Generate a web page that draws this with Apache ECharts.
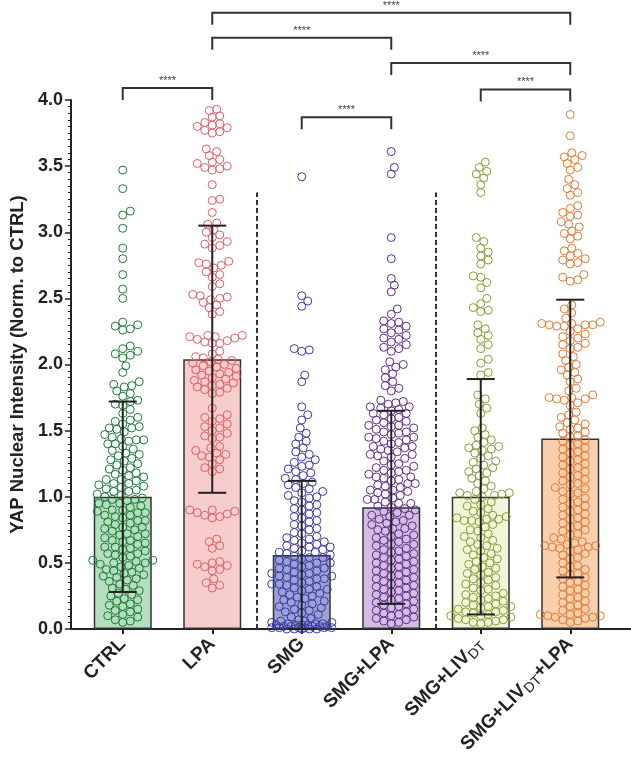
<!DOCTYPE html>
<html><head><meta charset="utf-8">
<script src="https://cdn.jsdelivr.net/npm/echarts@6/dist/echarts.min.js"></script>
<style>html,body{margin:0;padding:0;background:#fff}#c{width:631px;height:762px}</style>
</head><body><div id="c"></div>
<script>
// ---------- DATA ----------
const categories = ['CTRL', 'LPA', 'SMG', 'SMG+LPA', 'SMG+LIV_DT', 'SMG+LIV_DT+LPA'];
const barMeans = [1.00, 2.04, 0.56, 0.92, 1.00, 1.44];
const barSD = [0.72, 1.01, 0.56, 0.73, 0.89, 1.05];
const yMin = 0, yMax = 4.0, yInterval = 0.5;

const ctrlPoints = [3.47,3.33,3.16,3.13,3.03,2.88,2.80,2.68,2.57,2.50,
2.32,2.30,2.29,2.27,2.26,2.14,2.12,2.10,2.08,2.07,2.05,1.99,1.94,1.87,1.85,1.84,1.83,
1.80,1.78,1.76,1.73,1.72,1.70,1.69,1.66,1.63,
1.60,1.58,1.57,1.55,1.53,1.52,1.52,1.51,1.49,1.47,1.45,1.44,1.43,1.43,1.42,1.40,1.40,
1.38,1.36,1.35,1.33,1.32,1.31,1.29,1.28,1.27,1.25,1.24,1.22,1.21,1.20,1.18,1.17,1.16,1.15,1.13,1.13,1.12,1.10,1.10,1.09,1.08,
1.07,1.06,1.05,1.04,1.04,1.02,1.01,1.00,0.99,0.98,0.98,0.97,0.95,0.95,0.94,0.93,0.92,0.90,0.90,0.89,0.88,0.88,0.86,0.86,0.85,0.84,0.82,0.82,0.81,0.80,0.79,0.77,0.77,0.76,0.75,0.74,0.72,0.72,0.71,0.70,0.69,0.67,0.67,0.66,0.65,0.64,0.62,0.62,0.61,0.60,0.59,0.57,0.57,0.56,0.55,0.54,0.52,0.52,0.51,0.50,0.50,0.49,0.48,0.47,0.46,0.45,0.44,0.43,0.42,0.41,0.40,0.39,0.38,
0.37,0.36,0.34,0.33,0.31,0.30,0.29,0.27,0.26,0.25,0.23,0.22,0.21,0.19,0.18,0.17,0.15,0.14,0.13,0.11,0.10,0.09,0.07,0.06,0.05];

const lpaPoints = [3.93,3.92,3.88,3.87,3.83,3.82,3.81,3.80,3.79,3.77,3.76,3.75,
3.63,3.61,3.58,3.55,3.53,3.52,3.50,3.49,3.48,3.47,
3.36,3.25,3.24,3.15,3.07,3.06,
3.02,3.00,2.98,2.96,2.93,2.91,2.90,2.88,
2.78,2.77,2.76,2.75,2.73,2.70,2.68,2.66,2.61,2.59,
2.53,2.52,2.51,2.50,2.49,2.47,2.45,2.43,2.40,2.38,
2.22,2.22,2.21,2.21,2.20,2.19,2.18,2.17,2.16,2.16,
2.10,2.08,2.06,2.05,2.04,2.03,2.02,2.01,2.00,1.99,1.98,1.97,1.96,1.95,1.94,1.93,1.92,1.91,1.90,1.89,1.88,1.87,1.86,1.85,1.84,1.83,1.82,1.81,1.79,1.78,
1.67,1.62,1.60,1.59,1.57,1.55,1.53,1.52,1.50,1.48,1.46,1.45,1.44,
1.38,1.37,1.35,1.33,1.32,1.31,1.30,1.28,1.25,1.22,1.21,1.19,
0.90,0.90,0.89,0.88,0.87,0.86,0.85,0.84,
0.68,0.66,0.63,0.61,
0.51,0.50,0.49,0.48,0.47,0.45,0.44,
0.38,0.35,0.33,0.31];

const smgPoints = [3.42,2.52,2.48,2.44,2.12,2.11,2.10,1.92,1.87,1.68,1.62,1.58,
1.52,1.48,1.45,1.42,1.40,1.37,1.34,1.32,1.30,1.28,
1.26,1.24,1.23,1.21,1.19,1.18,1.16,1.14,1.13,1.11,1.10,1.09,1.07,1.06,1.04,1.03,1.01,1.00,0.99,0.97,0.96,0.94,0.93,0.91,0.90,
0.88,0.87,0.85,0.84,0.82,0.81,0.79,0.78,0.76,0.75,0.73,0.72,0.70,0.69,0.68,
0.67,0.66,0.65,0.64,0.63,0.62,0.62,0.61,0.60,0.59,0.58,0.58,0.57,0.56,0.55,0.54,0.54,0.53,0.52,0.51,0.50,0.50,0.49,0.48,0.47,0.46,0.46,0.45,0.44,0.43,0.42,0.42,0.41,0.40,0.40,0.39,0.38,0.38,0.37,0.36,0.35,0.34,0.34,0.33,0.32,0.31,0.30,0.30,0.29,0.28,0.27,0.26,
0.25,0.24,0.23,0.22,0.21,0.20,0.19,0.18,0.17,0.16,0.15,0.14,0.13,0.12,0.11,
0.09,0.08,0.07,0.06,0.06,0.05,0.05,0.04,0.04,0.04,0.03,0.03,0.03,0.03,0.02,0.02,0.02,0.02,0.02,0.01,0.01,0.01,0.01,0.01,0.01,0.00,0.00,0.00,0.00,0.00];

const smgLpaPoints = [3.61,3.49,3.44,2.96,2.80,2.65,2.60,2.55,
2.42,2.38,2.33,2.32,2.31,2.29,2.27,
2.26,2.24,2.22,2.20,2.19,2.17,2.15,2.13,2.12,2.10,
2.02,2.00,1.98,1.96,1.93,1.90,1.87,1.84,1.82,1.80,
1.73,1.72,1.71,1.70,1.68,1.68,1.67,1.66,1.65,1.63,1.63,1.62,1.60,1.59,1.58,1.57,1.56,1.54,1.54,1.53,1.52,1.51,1.49,1.49,1.48,1.47,1.45,1.45,1.44,1.43,1.42,1.41,1.40,1.38,1.38,1.37,1.36,1.35,1.34,1.32,1.32,1.31,1.30,1.29,1.27,
1.25,1.24,1.23,1.22,1.20,1.20,1.19,1.18,1.17,1.15,1.15,1.14,1.13,1.12,1.10,1.10,1.09,1.08,1.07,1.05,1.05,1.04,1.03,1.02,1.01,
0.99,0.98,0.98,0.96,0.95,0.95,0.93,0.92,0.91,0.90,0.89,0.88,0.86,0.86,0.85,0.83,0.82,0.81,0.80,0.79,0.78,0.76,0.76,0.75,0.74,0.72,0.71,0.70,0.69,0.68,0.67,0.66,0.64,0.64,0.63,0.61,0.60,0.59,0.58,0.57,0.56,0.55,0.54,0.53,0.52,0.51,0.50,0.49,0.48,0.47,0.46,0.45,0.44,0.43,0.42,0.41,0.40,0.39,0.38,0.37,0.36,0.35,0.34,0.33,0.32,0.31,0.30,0.29,0.28,0.27,0.26,0.25,0.24,0.23,0.22,0.21,0.20,0.19,0.18,0.17,0.16,0.15,0.14,0.13,0.12,0.11,0.10,0.09,0.08,0.07,0.06,0.05,0.04];

const smgLivPoints = [3.53,3.49,3.46,3.44,3.41,3.36,3.30,
2.96,2.93,2.88,2.85,2.82,2.79,2.76,2.67,2.66,2.62,2.58,
2.50,2.46,2.43,2.41,2.40,2.30,2.27,2.24,2.22,2.19,2.15,2.12,2.04,2.01,1.94,1.92,
1.77,1.74,1.70,1.67,1.63,
1.52,1.50,1.47,1.45,1.43,1.41,1.39,1.38,1.37,1.36,
1.35,1.33,1.31,1.29,1.27,1.26,1.24,1.22,1.21,1.19,1.18,1.16,
1.14,1.12,1.10,1.08,1.06,1.04,1.03,1.03,1.02,1.01,1.01,1.00,0.98,0.96,0.94,0.93,0.91,0.89,0.88,0.86,0.85,0.84,0.83,0.83,0.82,0.82,0.81,0.79,0.77,0.75,0.74,0.72,0.70,0.69,0.67,0.66,0.64,0.63,0.61,0.60,0.59,0.57,0.56,0.54,0.53,0.51,0.50,0.49,0.47,0.46,0.45,0.43,0.42,0.41,0.39,0.38,0.37,0.35,0.34,0.33,0.31,0.30,0.29,0.27,0.26,0.25,0.24,0.23,0.22,0.21,0.20,0.19,0.18,0.17,0.17,0.16,0.15,0.14,0.13,0.13,0.12,0.11,0.10,0.10,0.09,0.08,0.07,0.07,0.06,0.05,0.05,0.04];

const smgLivLpaPoints = [3.89,3.73,3.60,3.58,3.57,3.55,3.52,3.49,3.47,3.40,3.36,3.33,3.30,3.28,3.20,3.18,3.15,3.13,3.12,3.08,3.06,3.04,3.01,2.99,2.97,2.95,2.88,2.86,2.84,2.82,2.80,2.79,2.77,2.76,2.68,2.66,2.64,2.63,
2.45,2.42,2.39,2.35,2.32,2.31,2.31,2.30,2.30,2.30,2.29,2.29,
2.27,2.25,2.23,2.21,2.20,2.18,2.16,2.15,2.13,2.12,
2.08,2.06,2.03,2.00,1.98,1.96,1.94,1.92,1.89,1.87,
1.82,1.80,1.77,1.75,1.75,1.74,1.74,1.73,1.71,1.69,
1.64,1.62,1.60,1.58,1.56,1.55,1.53,1.52,
1.51,1.49,1.48,1.46,1.45,1.43,1.42,1.40,1.39,1.37,1.36,1.34,1.33,1.31,1.30,1.28,1.27,1.25,1.24,1.22,1.21,1.19,1.18,1.16,1.15,1.13,1.12,1.10,1.09,1.07,1.06,1.04,1.03,1.02,
0.99,0.98,0.96,0.95,0.93,0.92,0.90,0.89,0.87,0.86,0.84,0.83,0.81,0.80,0.78,0.77,0.75,0.74,0.72,0.71,0.69,0.68,0.66,0.65,0.64,0.63,0.63,0.62,0.62,0.61,0.60,0.59,0.57,0.56,0.54,0.53,
0.50,0.48,0.47,0.45,0.44,0.42,0.41,0.39,0.38,0.36,0.35,0.33,0.32,0.30,0.29,0.27,0.26,0.24,0.23,0.21,0.20,0.18,0.17,0.15,0.14,0.12,0.11,0.11,0.10,0.10,0.09,0.09,0.08,0.07,0.06,0.05];

const groupPoints = [ctrlPoints, lpaPoints, smgPoints, smgLpaPoints, smgLivPoints, smgLivLpaPoints];
const pointColors = ['#1f7a35', '#dd5f66', '#3a3aa0', '#5f2d88', '#8a9b36', '#e07a34'];
const barColors = ['#b5dec0', '#f7cccd', '#9ca2d6', '#d3bde2', '#f1f6da', '#f9d0ad'];

// significance brackets: [fromIndex, toIndex, level]
const brackets = [[0, 1, 4.09], [1, 3, 4.47], [1, 5, 4.66], [3, 5, 4.28], [4, 5, 4.08], [2, 3, 3.87]];
const bracketLabels = ['****', '****', '****', '****', '****', '****'];
const dividers = [1.5, 3.5];
const dividerTop = 3.3;

// ---------- CHART ----------
const FONT = '"Liberation Sans", Arial, sans-serif';
const chart = echarts.init(document.getElementById('c'), null, {renderer: 'canvas'});
const INK = '#222';

function labelFmt(v) {
  return v.replace('_DT', '{s|DT}');
}

const option = {
  animation: false,
  backgroundColor: '#fff',
  textStyle: {fontFamily: FONT},
  grid: [
    {left: 60, right: 0, top: 100, bottom: 133},
    {left: 78, width: 537, top: 100, bottom: 133}
  ],
  xAxis: [
    {gridIndex: 0, type: 'value', min: 0, max: 1, axisLine: {show: true, onZero: false, lineStyle: {color: INK, width: 2}},
     axisTick: {show: false}, axisLabel: {show: false}, splitLine: {show: false}},
    {gridIndex: 1, type: 'category', data: categories, axisLine: {show: false},
     axisTick: {show: true, alignWithLabel: true, length: 5, lineStyle: {color: INK, width: 2}},
     axisLabel: {interval: 0, rotate: 45, margin: 12, color: INK, fontSize: 19, fontWeight: 'bold', fontFamily: FONT,
       formatter: labelFmt,
       rich: {s: {fontSize: 14, fontWeight: 'normal', color: INK, fontFamily: FONT, padding: [9, 0, 0, 0]}}},
     splitLine: {show: false}},
    {gridIndex: 1, type: 'value', min: -0.5, max: 5.5, show: false}
  ],
  yAxis: [
    {gridIndex: 0, type: 'value', min: yMin, max: yMax, interval: yInterval,
     name: 'YAP Nuclear Intensity (Norm. to CTRL)', nameLocation: 'middle', nameGap: 42,
     nameTextStyle: {fontSize: 18.5, fontWeight: 'bold', color: INK, fontFamily: FONT},
     axisLine: {show: true, lineStyle: {color: INK, width: 2}},
     axisTick: {show: true, length: 6, lineStyle: {color: INK, width: 1.5}},
     minorTick: {show: true, splitNumber: 10, length: 3, lineStyle: {color: INK, width: 1}},
     axisLabel: {color: INK, fontSize: 18, fontWeight: 'bold', fontFamily: FONT, margin: 8,
       formatter: v => v.toFixed(1)},
     splitLine: {show: false}},
    {gridIndex: 1, type: 'value', min: yMin, max: yMax, show: false}
  ],
  series: []
};

// bars
option.series.push({
  type: 'bar', xAxisIndex: 1, yAxisIndex: 1, barWidth: 58, z: 1,
  data: barMeans.map((m, i) => ({value: m, itemStyle: {color: barColors[i], borderColor: '#333', borderWidth: 1.5}}))
});
// scatter placeholders
groupPoints.forEach((pts, gi) => {
  option.series.push({
    id: 'pts' + gi, type: 'scatter', xAxisIndex: 2, yAxisIndex: 1, z: 3, symbol: 'circle', symbolSize: 8,
    itemStyle: {color: 'rgba(0,0,0,0)', borderColor: pointColors[gi], borderWidth: 1, opacity: 1},
    data: []
  });
});
// error bars
option.series.push({
  type: 'custom', xAxisIndex: 2, yAxisIndex: 1, z: 5,
  data: barMeans.map((m, i) => [i, m, barSD[i]]),
  renderItem: function (params, api) {
    const x = api.value(0), m = api.value(1), sd = api.value(2);
    const lo = Math.max(0, m - sd), hi = m + sd;
    const pHi = api.coord([x, hi]), pLo = api.coord([x, lo]);
    const hw = 14;
    const st = {stroke: INK, lineWidth: 2};
    return {type: 'group', children: [
      {type: 'line', shape: {x1: pHi[0], y1: pHi[1], x2: pLo[0], y2: pLo[1]}, style: st},
      {type: 'line', shape: {x1: pHi[0] - hw, y1: pHi[1], x2: pHi[0] + hw, y2: pHi[1]}, style: st},
      {type: 'line', shape: {x1: pLo[0] - hw, y1: pLo[1], x2: pLo[0] + hw, y2: pLo[1]}, style: st}
    ]};
  }
});
// dividers
option.series.push({
  type: 'custom', xAxisIndex: 2, yAxisIndex: 1, z: 4,
  data: dividers.map(d => [d, dividerTop]),
  renderItem: function (params, api) {
    const a = api.coord([api.value(0), 0]), b = api.coord([api.value(0), api.value(1)]);
    return {type: 'line', shape: {x1: a[0], y1: a[1], x2: b[0], y2: b[1]},
      style: {stroke: '#333', lineWidth: 2, lineDash: [5, 3]}};
  }
});
// brackets
option.series.push({
  type: 'custom', xAxisIndex: 2, yAxisIndex: 1, z: 6, clip: false,
  data: brackets.map((b, i) => [b[0], b[1], b[2], i]),
  renderItem: function (params, api) {
    const x1 = api.value(0), x2 = api.value(1), lv = api.value(2), idx = api.value(3);
    const p1 = api.coord([x1, lv]), p2 = api.coord([x2, lv]);
    const drop = 12;
    return {type: 'group', children: [
      {type: 'polyline', shape: {points: [[p1[0], p1[1] + drop], [p1[0], p1[1]], [p2[0], p2[1]], [p2[0], p2[1] + drop]]},
        style: {stroke: '#333', lineWidth: 2, fill: null}},
      {type: 'text', style: {text: bracketLabels[idx], x: (p1[0] + p2[0]) / 2, y: p1[1] - 7,
        align: 'center', verticalAlign: 'middle', fontSize: 11, fill: '#444', fontFamily: FONT}}
    ]};
  }
});

chart.setOption(option);

// beeswarm layout (deterministic, from values only)
function swarm(vals, yScale, xScale) {
  const sorted = vals.slice().sort((a, b) => a - b);
  const placed = [];
  const out = [];
  const d = 7.2, step = 1.5, maxOff = 31;
  for (const v of sorted) {
    const py = v * yScale;
    let best = 0, bestScore = -1, found = false;
    for (let k = 0; k * step <= maxOff && !found; k++) {
      const signs = k === 0 ? [1] : [1, -1];
      for (const sg of signs) {
        const ox = sg * k * step;
        let minD = Infinity;
        for (const q of placed) {
          if (Math.abs(q.y - py) < d) {
            const dist = Math.hypot(q.x - ox, q.y - py);
            if (dist < minD) minD = dist;
          }
        }
        if (minD >= d) { best = ox; found = true; break; }
        if (minD > bestScore) { bestScore = minD; best = ox; }
      }
    }
    placed.push({x: best, y: py});
    out.push([best / xScale, v]);
  }
  return out;
}

const yScale = Math.abs(chart.convertToPixel({yAxisIndex: 1}, 0) - chart.convertToPixel({yAxisIndex: 1}, 1));
const xScale = Math.abs(chart.convertToPixel({xAxisIndex: 2}, 1) - chart.convertToPixel({xAxisIndex: 2}, 0));
chart.setOption({
  series: groupPoints.map((pts, gi) => ({
    id: 'pts' + gi,
    data: swarm(pts, yScale, xScale).map(p => [gi + p[0], p[1]])
  }))
});
</script>
</body></html>
